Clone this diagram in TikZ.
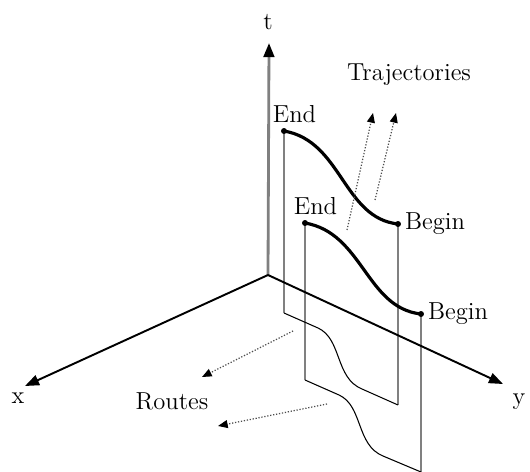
\documentclass[tikz,border=0pt]{standalone}
\usetikzlibrary{calc, arrows.meta}

\begin{document}
\begin{tikzpicture}[
            x=0.02cm, y=-0.02cm,
            font=\fontsize{14}{16}\selectfont,
            point/.style={radius=1.7pt},
            axis/.style={arrows=-{Triangle[length=8pt, width=6pt, black]}, line width=1.1pt},
            wall/.style={gray, line width=0.8pt},
            traj/.style={line width=1.8pt},
            route/.style={line width=0.6pt},
            hint/.style={arrows=-{Triangle[length=5.5pt, width=4.5pt, black]}, densely dotted, line width=0.7pt, black!70}
            ]
        \useasboundingbox (0,0) rectangle (530,472);

        \path coordinate (o) at (268,275)
              coordinate (tend) at (269,43)
              coordinate (xend) at (25,386)
              coordinate (yend) at (503,384);

        % tops of the walls
        \path coordinate (end1) at (284,131)
              coordinate (begin1) at (398,224)
              coordinate (end2) at (305,223)
              coordinate (begin2) at (421,314);

        % feet of the walls
        \path coordinate (r1) at (284,313)
              coordinate (s1) at (398,405)
              coordinate (r2) at (305,380)
              coordinate (s2) at (421,472);

        \path coordinate (tfrom1) at (347,230)
              coordinate (tto1) at (373,113)
              coordinate (tfrom2) at (375,200)
              coordinate (tto2) at (396,113)
              coordinate (rfrom1) at (293,331)
              coordinate (rto1) at (202,377)
              coordinate (rfrom2) at (327,404)
              coordinate (rto2) at (218,426);

        \draw[axis, gray, line width=1.6pt] (o) to (tend);

        \draw[wall] (end1) -- (r1) (begin1) -- (s1)
                    (end2) -- (r2) (begin2) -- (s2);

        \draw[route] (r1) -- (318,328) .. controls (342,339) and (335,378) .. (362,389) -- (s1);
        \draw[route] (r2) -- (339,395) .. controls (363,406) and (356,445) .. (383,456) -- (s2);

        \draw[axis] (o) to (xend);
        \draw[axis] (o) to (yend);

        \draw[traj] (end1) .. controls (342,141) and (343,218) .. (begin1);
        \draw[traj] (end2) .. controls (363,233) and (366,308) .. (begin2);

        \fill (end1) circle[point] node[above=1pt, xshift=6pt] (lend1) {End}
              (end2) circle[point] node[above=1pt, xshift=6pt] (lend2) {End}
              (begin1) circle[point] node[right=0.5pt] (lbegin1) {Begin}
              (begin2) circle[point] node[right=0.5pt] (lbegin2) {Begin};

        \draw[hint] (tfrom1) to (tto1);
        \draw[hint] (tfrom2) to (tto2);
        \draw[hint] (rfrom1) to (rto1);
        \draw[hint] (rfrom2) to (rto2);

        \node (tlab) at (268,22) {t};
        \node (xlab) at (18,398) {x};
        \node (ylab) at (519,402) {y};
        \node (trajlab) at (409,75) {Trajectories};
        \node (routelab) at (172,401) {Routes};
    \end{tikzpicture}
\end{document}
